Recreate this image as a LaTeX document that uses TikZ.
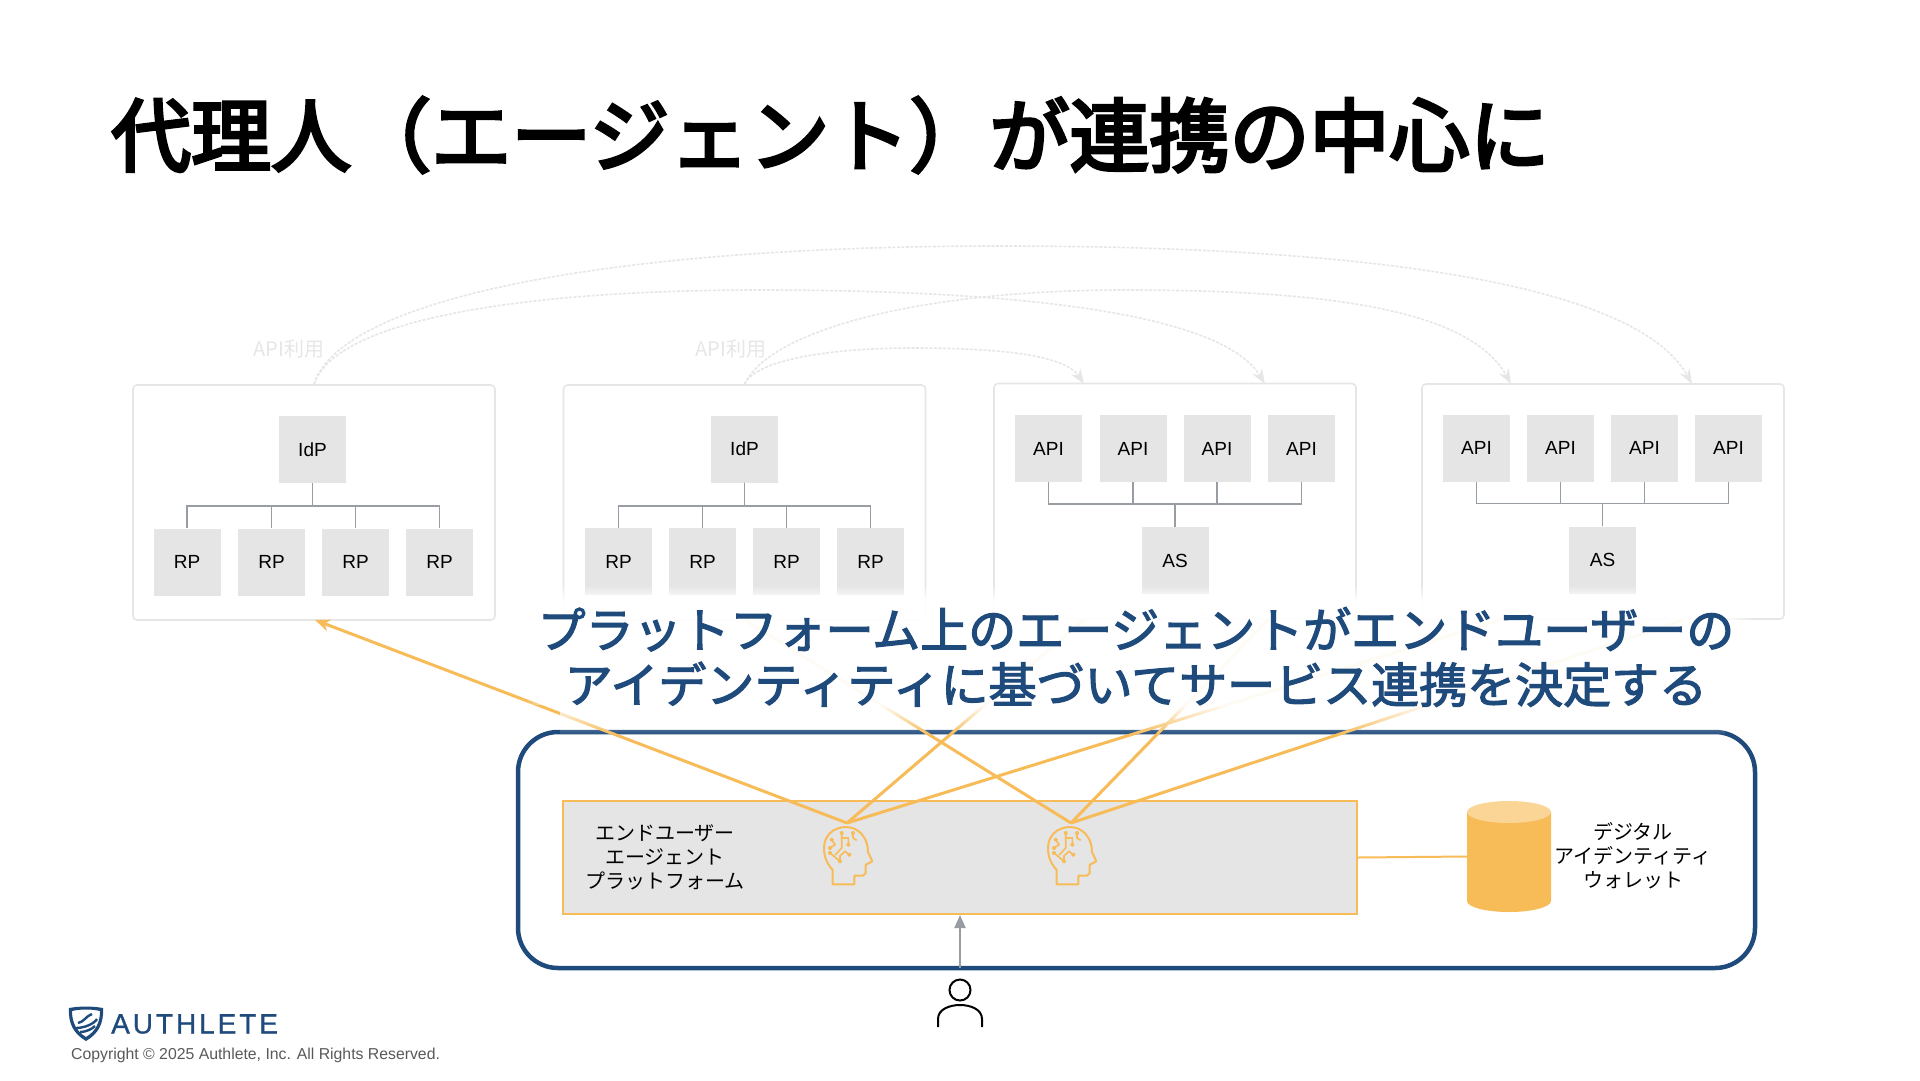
\documentclass[tikz,border=0pt]{standalone}
\usepackage{fontspec}
\setmainfont{Liberation Sans}
\newfontfamily\jpfont{Noto Sans CJK JP}
\newfontfamily\titlefont[FakeBold=4]{Noto Sans CJK JP}
\newfontfamily\claimfont[FakeBold=2.5]{Noto Sans CJK JP}
\newfontfamily\logofont[LetterSpace=10.5,FakeBold=1]{Liberation Sans}
\usetikzlibrary{arrows.meta,fadings}
\definecolor{navy}{HTML}{1F4A7C}
\definecolor{amber}{HTML}{F7BB57}
\definecolor{amberlight}{HTML}{FAD596}
\definecolor{cellgray}{HTML}{E5E5E6}
\definecolor{palegray}{HTML}{E6E6E6}
\definecolor{linegray}{HTML}{989CA3}
\tikzfading[name=veilleft, left color=transparent!100, right color=transparent!0]
\tikzfading[name=veilright, left color=transparent!0, right color=transparent!100]
\tikzfading[name=veiltop, top color=transparent!100, bottom color=transparent!0]
\tikzfading[name=veilbottom, top color=transparent!0, bottom color=transparent!100]
\tikzset{
  panelbox/.style={draw=palegray, line width=1.6pt, rounded corners=4pt, fill=white, minimum width=362pt, minimum height=235pt, inner sep=0pt},
  cellbox/.style={fill=cellgray, minimum width=67pt, minimum height=67pt, inner sep=0pt, font=\fontsize{19}{22}\selectfont},
  treeline/.style={draw=linegray, line width=1.6pt},
  usecurve/.style={draw=palegray, line width=1.6pt, dash pattern=on 3pt off 1.5pt, -{Stealth[length=15pt,width=11pt]}},
  agentline/.style={draw=amber, line width=3pt},
  jplabel/.style={font=\jpfont\fontsize{20}{24}\selectfont, align=center, inner sep=0pt},
  pics/agenthead/.style={code={
    \draw[amber, line width=2pt, line join=round] (8.7,57.3) -- (30.3,57.3) -- (30.3,48.7) -- (39,48.7) -- (41.7,46) -- (41.7,37.7) -- (48.3,34.3) -- (44,25)
      .. controls (44,10) and (34,0) .. (22,0) .. controls (9,0) and (0,9) .. (0,21) .. controls (0,31) and (4,38) .. (8.7,43) -- cycle;
    \draw[amber, line width=1.6pt] (17.7,6) -- (17.7,21) -- (11,28) (17.7,11) -- (24.3,11) -- (24.3,17.7) (29,6) -- (29,11) -- (32.7,13.3) (7.7,12.7) -- (11,17.7) -- (6,21) (6,26) -- (16,34.3) -- (16,29) -- (21,24.3) -- (25.3,27.7);
    \foreach \p in {(17.7,6),(24.3,17.7),(29,6),(7.7,12.7),(6,21),(6,26),(16,34.3),(25.3,27.7)} \fill[amber] \p circle (2pt);
  }}
}
\begin{document}
\begin{tikzpicture}[x=1pt, y=-1pt]
  \useasboundingbox (0,0) rectangle (1920,1080);
  \node[anchor=west, inner sep=0pt, font=\titlefont\fontsize{80}{90}\selectfont] (titleText) at (111,135) {代理人（エージェント）が連携の中心に};

  \node[panelbox] (panelA) at (314,502.5) {};
  \node[panelbox] (panelB) at (744.5,502.5) {};
  \node[panelbox] (panelC) at (1175,501) {};
  \node[panelbox] (panelD) at (1603,501.5) {};

  \node[cellbox] (idpA) at (312.5,449.5) {IdP};
  \node[cellbox] (idpB) at (744.5,449) {IdP};
  \foreach \i/\x in {1/187,2/271.5,3/355.5,4/439.5} {
    \node[cellbox] (rpA\i) at (\x,562) {RP};
    \draw[treeline] (idpA.south) -- ++(0,23) -| (rpA\i.north);
  }
  \foreach \i/\x in {1/618.5,2/702.5,3/786.5,4/870.5} {
    \node[cellbox] (rpB\i) at (\x,561.5) {RP};
    \draw[treeline] (idpB.south) -- ++(0,23) -| (rpB\i.north);
  }
  \node[cellbox] (asC) at (1175,560.5) {AS};
  \node[cellbox] (asD) at (1602.5,560) {AS};
  \foreach \i/\x in {1/1048.5,2/1133,3/1217,4/1301.5} {
    \node[cellbox] (apiC\i) at (\x,448.5) {API};
    \draw[treeline] (asC.north) -- ++(0,-23) -| (apiC\i.south);
  }
  \foreach \i/\x in {1/1476.5,2/1560.5,3/1644.5,4/1728.5} {
    \node[cellbox] (apiD\i) at (\x,448) {API};
    \draw[treeline] (asD.north) -- ++(0,-23) -| (apiD\i.south);
  }

  \node[text=palegray, inner sep=0pt, font=\jpfont\fontsize{20}{24}\selectfont] (useTextA) at (289,349) {API利用};
  \node[text=palegray, inner sep=0pt, font=\jpfont\fontsize{20}{24}\selectfont] (useTextB) at (731,349) {API利用};

  \coordinate (inC1) at (1084,384);
  \coordinate (inC2) at (1265,384);
  \coordinate (inD1) at (1511,384);
  \coordinate (inD2) at (1692,384);
  \draw[usecurve] (panelA.north) .. controls (340,300) and (600,246) .. (1000,246) .. controls (1400,246) and (1640,290) .. (inD2);
  \draw[usecurve] (panelA.north) .. controls (335,320) and (520,290) .. (760,290) .. controls (1000,290) and (1220,310) .. (inC2);
  \draw[usecurve] (panelB.north) .. controls (770,330) and (920,290) .. (1125,290) .. controls (1330,290) and (1470,310) .. (inD1);
  \draw[usecurve] (panelB.north) .. controls (755,360) and (830,348) .. (912,348) .. controls (1000,348) and (1065,355) .. (inC1);

  \node[draw=navy, line width=4.5pt, rounded corners=40pt, minimum width=1237pt, minimum height=236pt, inner sep=0pt] (userBox) at (1136.5,850) {};
  \node[draw=amber, line width=2pt, fill=cellgray, minimum width=794pt, minimum height=113pt, inner sep=0pt] (platformBox) at (960,857.5) {};
  \coordinate (walletWest) at (1467,856.5);
  \fill[amber] (walletWest |- 0,812) -- (1467,901) arc[start angle=180, end angle=360, x radius=42pt, y radius=11pt] -- (1551,812) -- cycle;
  \fill[amberlight] (1509,812) ellipse [x radius=42pt, y radius=11pt];
  \draw[draw=amber, line width=2pt] (platformBox.east) -- (walletWest);

  \node[jplabel] (platformText) at (665,857.5) {エンドユーザー\\エージェント\\プラットフォーム};
  \node[jplabel] (walletText) at (1633,856) {デジタル\\アイデンティティ\\ウォレット};

  \pic at (824,827) {agenthead};
  \pic at (1048,827) {agenthead};
  \coordinate (agentA) at (847,823);
  \coordinate (agentB) at (1071,823);
  \coordinate (outA) at (315,620);
  \coordinate (outB) at (745,620);
  \coordinate (outC1) at (1084,620);
  \coordinate (outC2) at (1268,620);
  \coordinate (outD1) at (1500,620);
  \coordinate (outD2) at (1684,620);
  \draw[agentline, -{Stealth[length=15pt,width=12pt]}] (agentA) -- (outA);
  \foreach \a/\b in {agentA/outC1,agentA/outD1,agentB/outB,agentB/outC2,agentB/outD2} \draw[agentline] (\a) -- (\b);

  \fill[white, opacity=.94] (560,600) rectangle (1725,705);
  \fill[white, opacity=.94, path fading=veiltop] (560,585) rectangle (1725,600);
  \fill[white, opacity=.94, path fading=veilbottom] (560,705) rectangle (1725,735);
  \fill[white, opacity=.94, path fading=veilleft] (525,600) rectangle (560,705);
  \fill[white, opacity=.94, path fading=veilright] (1725,600) rectangle (1755,705);
  \node[text=navy, align=center, inner sep=0pt, font=\claimfont\fontsize{48}{55}\selectfont] (claimText) at (1136,657) {プラットフォーム上のエージェントがエンドユーザーの\\アイデンティティに基づいてサービス連携を決定する};

  \node[circle, draw=black, line width=2pt, minimum size=21pt, inner sep=0pt] (userHead) at (960,990) {};
  \draw[black, line width=2pt] (938,1027) -- (938,1019) .. controls (938,1009) and (950,1005) .. (960,1005) .. controls (970,1005) and (982,1009) .. (982,1019) -- (982,1027);
  \coordinate (userTop) at (960,968);
  \draw[draw=linegray, line width=2pt, -{Triangle[length=13pt,width=11pt]}] (userTop) -- (platformBox.south -| userTop);

  \fill[navy, even odd rule] (69,1008) .. controls (80,1006) and (92,1006) .. (103,1008) .. controls (104,1024) and (98,1034) .. (86,1041) .. controls (74,1034) and (68,1024) .. (69,1008) -- cycle
    (72,1011) .. controls (80,1009) and (92,1009) .. (100,1011) .. controls (100,1022) and (96,1031) .. (86,1037) .. controls (76,1031) and (72,1022) .. (72,1011) -- cycle;
  \draw[navy, line width=2.4pt] (76,1028) .. controls (84,1028) and (94,1024) .. (97,1019) (80,1032) .. controls (86,1032) and (92,1029) .. (95,1026) (78,1023) .. controls (84,1022) and (86,1016) .. (92,1014);
  \node[anchor=west, text=navy, inner sep=0pt, font=\logofont\fontsize{28}{30}\selectfont] (logoText) at (111,1024) {AUTHLETE};
  \node[anchor=west, text=black!65, inner sep=0pt, font=\fontsize{15.8}{20}\selectfont] (copyText) at (71,1055.5) {Copyright © 2025 Authlete, Inc. All Rights Reserved.};
\end{tikzpicture}
\end{document}
